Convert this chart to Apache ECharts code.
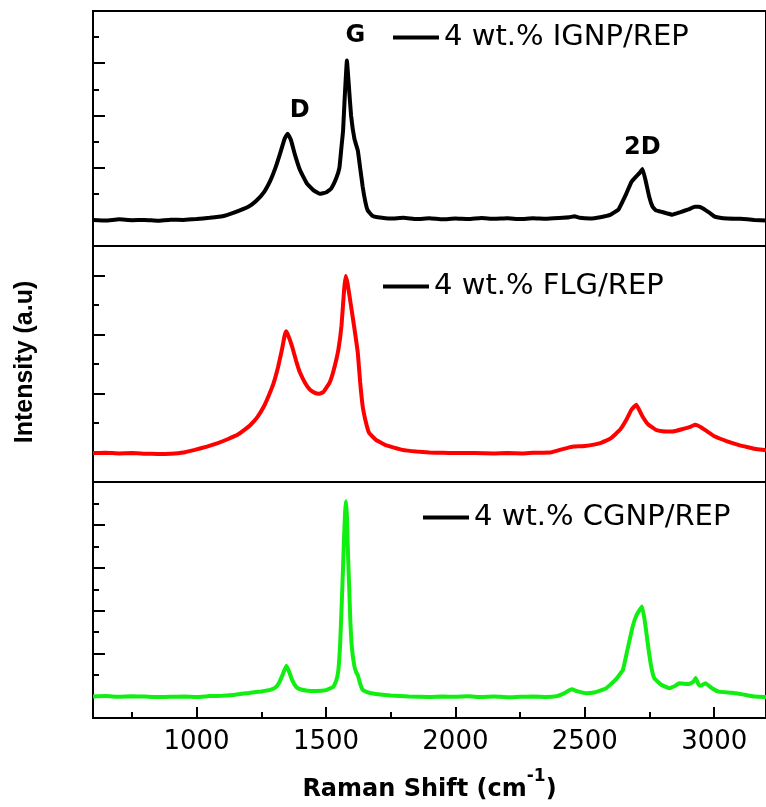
<!DOCTYPE html>
<html><head><meta charset="utf-8">
<script src="https://cdn.jsdelivr.net/npm/echarts@6/dist/echarts.min.js"></script>
<style>html,body{margin:0;padding:0;background:#fff}#c{width:766px;height:807px}</style>
</head><body><div id="c"></div>
<script>
// ---- data (Raman shift, cm^-1 ; intensity in arbitrary units) ----
const xIGNP = [600,650,700,750,800,850,900,950,1000,1050,1100,1150,1200,1230,1260,1285,1305,1323,1340,1352,1365,1380,1400,1426,1450,1476,1500,1520,1540,1552,1560,1566,1572,1581,1588,1597,1610,1623,1632,1642,1652,1661,1680,1700,1750,1800,1850,1900,1950,2000,2050,2100,2150,2200,2250,2300,2350,2400,2440,2460,2480,2520,2560,2600,2630,2660,2680,2697,2712,2723,2735,2749,2762,2774,2800,2838,2870,2900,2925,2940,2960,2985,3003,3050,3100,3155,3200];
const yIGNP = [1.0,0.98,1.02,0.99,1.0,0.97,1.01,1.0,1.03,1.08,1.14,1.3,1.5,1.72,2.05,2.5,3.0,3.55,4.1,4.3,4.05,3.5,2.9,2.4,2.15,2.0,2.05,2.2,2.6,3.0,3.8,4.4,5.6,7.1,6.2,5.0,4.1,3.66,3.0,2.26,1.7,1.37,1.15,1.1,1.05,1.08,1.03,1.06,1.02,1.05,1.03,1.07,1.04,1.06,1.03,1.06,1.04,1.07,1.1,1.14,1.08,1.05,1.1,1.2,1.4,2.0,2.45,2.65,2.8,2.95,2.5,1.88,1.5,1.37,1.3,1.2,1.3,1.4,1.5,1.5,1.42,1.25,1.12,1.05,1.04,1.0,0.98];

const xFLG = [600,650,700,750,800,850,900,950,993,1040,1082,1120,1158,1190,1209,1235,1260,1280,1298,1315,1330,1340,1346,1355,1369,1385,1400,1420,1438,1455,1472,1490,1514,1530,1548,1560,1570,1576,1584,1597,1610,1623,1632,1642,1655,1667,1693,1730,1795,1850,1900,1950,2000,2074,2150,2200,2260,2300,2367,2400,2430,2456,2500,2560,2600,2636,2660,2680,2699,2710,2723,2745,2774,2800,2838,2880,2910,2927,2950,2975,3003,3050,3093,3130,3166,3200];
const yFLG = [0.98,0.99,0.97,0.98,0.96,0.95,0.96,1.0,1.09,1.2,1.32,1.45,1.6,1.8,1.94,2.2,2.56,2.95,3.36,3.9,4.49,4.95,5.11,4.95,4.6,4.1,3.7,3.35,3.13,3.03,2.99,3.05,3.37,3.8,4.49,5.3,6.5,6.98,6.7,5.96,5.2,4.38,3.4,2.56,2.0,1.66,1.43,1.25,1.09,1.03,1.0,0.99,0.98,0.98,0.97,0.98,0.97,0.99,1.0,1.08,1.15,1.2,1.22,1.32,1.48,1.77,2.1,2.45,2.62,2.45,2.22,1.95,1.77,1.72,1.71,1.8,1.88,1.94,1.85,1.7,1.54,1.38,1.26,1.18,1.11,1.08];

const xCGNP = [600,650,700,750,800,850,900,950,1000,1050,1100,1150,1209,1250,1285,1305,1318,1332,1347,1358,1369,1385,1400,1430,1464,1500,1529,1540,1548,1555,1561,1566,1570,1574,1577,1581,1585,1590,1594,1600,1610,1618,1623,1632,1642,1660,1693,1750,1820,1900,1950,2000,2050,2100,2150,2200,2250,2300,2350,2392,2420,2449,2470,2506,2540,2583,2620,2647,2665,2685,2700,2721,2732,2743,2755,2768,2795,2826,2850,2864,2902,2920,2928,2940,2947,2966,2990,3017,3068,3110,3156,3200];
const yCGNP = [1.0,1.02,0.99,1.01,1.0,0.98,0.99,1.0,0.98,1.02,1.04,1.08,1.18,1.24,1.31,1.42,1.62,2.0,2.43,2.15,1.78,1.45,1.34,1.27,1.26,1.3,1.46,1.75,2.24,3.5,5.36,7.0,8.47,9.6,10.1,9.4,7.7,6.0,4.58,3.3,2.4,2.1,2.0,1.6,1.31,1.2,1.12,1.05,1.0,0.98,1.0,0.99,1.01,0.98,1.0,0.97,0.99,1.0,0.98,1.02,1.15,1.34,1.25,1.15,1.2,1.39,1.8,2.24,3.2,4.27,4.8,5.2,4.5,3.49,2.5,1.86,1.55,1.39,1.5,1.62,1.58,1.7,1.86,1.55,1.5,1.62,1.4,1.23,1.18,1.1,1.0,0.98];

const seriesNames = ['4 wt.% IGNP/REP', '4 wt.% FLG/REP', '4 wt.% CGNP/REP'];
const seriesColors = ['#000000', '#ff0000', '#11ee11'];
const xMajorTicks = [1000, 1500, 2000, 2500, 3000];
const xMinorTicks = [750, 1250, 1750, 2250, 2750];
const yMaxes = [9, 8, 11];
const yMajorTicks = [[1,3,5,7],[1,3,5,7],[1,3,5,7,9]];
const yMinorTicks = [[2,4,6,8],[2,4,6],[2,4,6,8,10]];
const peakNames = ['D', 'G', '2D'];
const peakX = [1399, 1614, 2722];
const peakY = [5.18, 8.06, 3.76];

// ---- chart ----
const chart = echarts.init(document.getElementById('c'), null, {renderer: 'canvas'});
const FONT = 'DejaVu Sans';
const panelTops = [11, 246, 482];
const panelHeights = [235, 236, 236];
const grid = panelTops.map((t, i) => ({
  left: 93, right: -9, top: t, height: panelHeights[i],
  show: true, borderColor: '#000', borderWidth: 2, backgroundColor: 'transparent'
}));

const xAxis = [];
const yAxis = [];
for (let p = 0; p < 3; p++) {
  const isBottom = p === 2;
  xAxis.push({
    type: 'value', gridIndex: p, min: 600, max: 3200, position: 'bottom',
    axisLine: {show: true, onZero: false, lineStyle: {color: '#000', width: 2}},
    axisTick: {show: isBottom, inside: true, length: 11, lineStyle: {color: '#000', width: 2}, customValues: xMajorTicks},
    axisLabel: {show: isBottom, customValues: xMajorTicks, formatter: v => String(v),
                fontFamily: FONT, fontSize: 26, color: '#000', margin: 11},
    splitLine: {show: false},
    name: isBottom ? '{a|Raman Shift (cm}{s|-1}{a|)}' : '',
    nameLocation: 'middle', nameGap: 50,
    nameTextStyle: {
      rich: {
        a: {fontFamily: FONT, fontWeight: 'bold', fontSize: 24, color: '#000', lineHeight: 34, verticalAlign: 'bottom'},
        s: {fontFamily: FONT, fontWeight: 'bold', fontSize: 17, color: '#000', lineHeight: 34, verticalAlign: 'top'}
      }
    }
  });
  yAxis.push({
    type: 'value', gridIndex: p, min: 0, max: yMaxes[p], position: 'left',
    axisLine: {show: true, onZero: false, lineStyle: {color: '#000', width: 2}},
    axisTick: {show: true, inside: true, length: 12, lineStyle: {color: '#000', width: 2}, customValues: yMajorTicks[p]},
    axisLabel: {show: false}, splitLine: {show: false}
  });
  yAxis.push({
    type: 'value', gridIndex: p, min: 0, max: yMaxes[p], position: 'left', offset: 0,
    axisLine: {show: false, onZero: false},
    axisTick: {show: true, inside: true, length: 6, lineStyle: {color: '#000', width: 2}, customValues: yMinorTicks[p]},
    axisLabel: {show: false}, splitLine: {show: false}
  });
}
// minor x ticks on bottom panel
xAxis.push({
  type: 'value', gridIndex: 2, min: 600, max: 3200, position: 'bottom', offset: 0,
  axisLine: {show: false, onZero: false},
  axisTick: {show: true, inside: true, length: 6, lineStyle: {color: '#000', width: 2}, customValues: xMinorTicks},
  axisLabel: {show: false}, splitLine: {show: false}
});

const xs = [xIGNP, xFLG, xCGNP];
const ys = [yIGNP, yFLG, yCGNP];
const series = xs.map((xarr, i) => ({
  name: seriesNames[i], type: 'line', xAxisIndex: i, yAxisIndex: i * 2,
  data: xarr.map((v, j) => [v, ys[i][j]]),
  showSymbol: false, symbol: 'none', smooth: 0.1,
  lineStyle: {color: seriesColors[i], width: 4},
  itemStyle: {color: seriesColors[i]},
  silent: true, animation: false,
  markPoint: i === 0 ? {
    symbol: 'circle', symbolSize: 0, silent: true, animation: false,
    label: {show: true, position: 'inside', formatter: '{b}', fontFamily: FONT, fontWeight: 'bold', fontSize: 24, color: '#000'},
    data: peakNames.map((n, k) => ({name: n, coord: [peakX[k], peakY[k]]}))
  } : undefined
}));

const legendPos = [[393, 23], [383, 272], [423, 503]];
const legend = seriesNames.map((n, i) => ({
  data: [{name: n}], left: legendPos[i][0], top: legendPos[i][1], padding: 0,
  icon: 'rect', itemWidth: 46, itemHeight: 4, selectedMode: false,
  itemStyle: {color: '#000', borderWidth: 0}, lineStyle: {color: '#000', width: 4},
  textStyle: {fontFamily: FONT, fontSize: 29, color: '#000'}
}));

chart.setOption({
  animation: false,
  backgroundColor: '#fff',
  grid, xAxis, yAxis, series, legend,
  graphic: [{
    type: 'text', x: 25, y: 362, rotation: Math.PI / 2,
    style: {text: 'Intensity (a.u)', fontFamily: 'Liberation Sans', fontWeight: 'bold', fontSize: 25, fill: '#000',
            textAlign: 'center', textVerticalAlign: 'middle', align: 'center', verticalAlign: 'middle'}
  }]
});
</script></body></html>
